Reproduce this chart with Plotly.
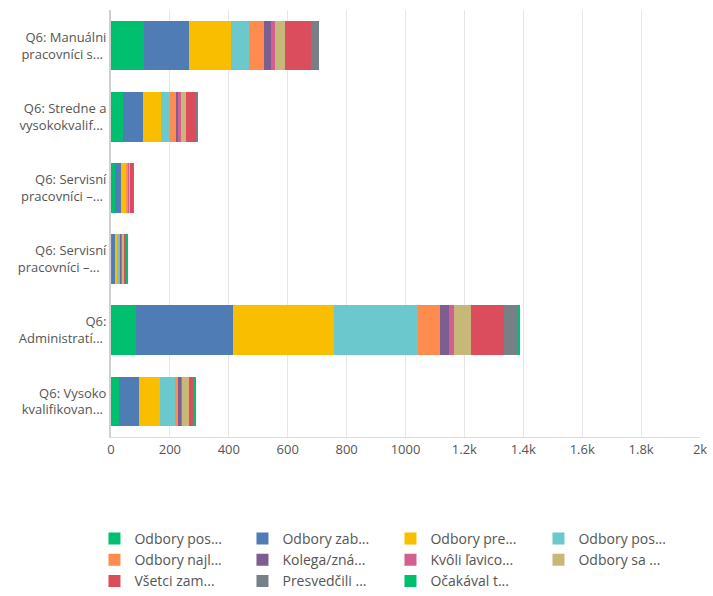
import plotly.graph_objects as go

categories = [
    "Q6: Manuálni<br>pracovníci s...",
    "Q6: Stredne a<br>vysokokvalif...",
    "Q6: Servisní<br>pracovníci –...",
    "Q6: Servisní<br>pracovníci –... ",
    "Q6:<br>Administratí...",
    "Q6: Vysoko<br>kvalifikovan...",
]

series_names = [
    "Odbory pos...", "Odbory zab...", "Odbory pre...", "Odbory pos... ",
    "Odbory najl...", "Kolega/zná...", "Kvôli ľavico...", "Odbory sa ...",
    "Všetci zam...", "Presvedčili ...", "Očakával t...",
]

colors = [
    "#00BF6F", "#507CB6", "#F9BE00", "#6BC8CD",
    "#FF8B4F", "#7D5E90", "#D25F90", "#C7B879",
    "#DB4D5C", "#768086", "#00BF6F",
]

# values per series, in category order
values = [
    [112, 40, 15, 4, 84, 26],
    [152, 68, 19, 10, 331, 70],
    [144, 61, 20, 8, 342, 71],
    [61, 33, 0, 6, 287, 51],
    [50, 20, 6, 5, 74, 10],
    [23, 8, 1, 4, 31, 10],
    [14, 6, 1, 3, 14, 3],
    [36, 20, 3, 5, 61, 23],
    [87, 34, 12, 8, 110, 17],
    [27, 7, 1, 1, 48, 4],
    [0, 0, 0, 1, 6, 5],
]

x_ticks = [0, 200, 400, 600, 800, 1000, 1200, 1400, 1600, 1800, 2000]
x_tick_labels = ["0", "200", "400", "600", "800", "1000", "1.2k", "1.4k", "1.6k", "1.8k", "2k"]

fig = go.Figure()
for name, col, vals in zip(series_names, colors, values):
    fig.add_trace(go.Bar(
        y=categories, x=vals, name=name, orientation="h",
        marker=dict(color=col, line=dict(width=0)),
    ))

fig.update_layout(
    barmode="stack",
    bargap=0.3,
    width=713, height=596,
    margin=dict(l=111, r=13, t=10, b=159),
    plot_bgcolor="white", paper_bgcolor="white",
    font=dict(family="Open Sans, sans-serif", size=13, color="#555"),
    xaxis=dict(
        range=[0, 2000], tickvals=x_ticks, ticktext=x_tick_labels,
        showgrid=True, gridcolor="#e6e6e6", gridwidth=1,
        zeroline=False, showline=True, linecolor="#dcdcdc",
        ticks="", tickfont=dict(size=13, color="#555"),
        fixedrange=True, automargin=False,
    ),
    yaxis=dict(
        categoryorder="array", categoryarray=categories,
        autorange="reversed", showline=True, linecolor="#d0d0d0", linewidth=2,
        ticks="", ticksuffix=" ", tickfont=dict(size=13, color="#555"),
        fixedrange=True, automargin=False,
    ),
    legend=dict(
        orientation="h", xref="container", x=0.1325, xanchor="left",
        yref="container", y=0.1225, yanchor="top",
        entrywidth=103, entrywidthmode="pixels",
        font=dict(size=14, color="#555"), traceorder="normal",
        itemclick=False, tracegroupgap=0,
    ),
    showlegend=True,
)

fig.write_html("out.html")
